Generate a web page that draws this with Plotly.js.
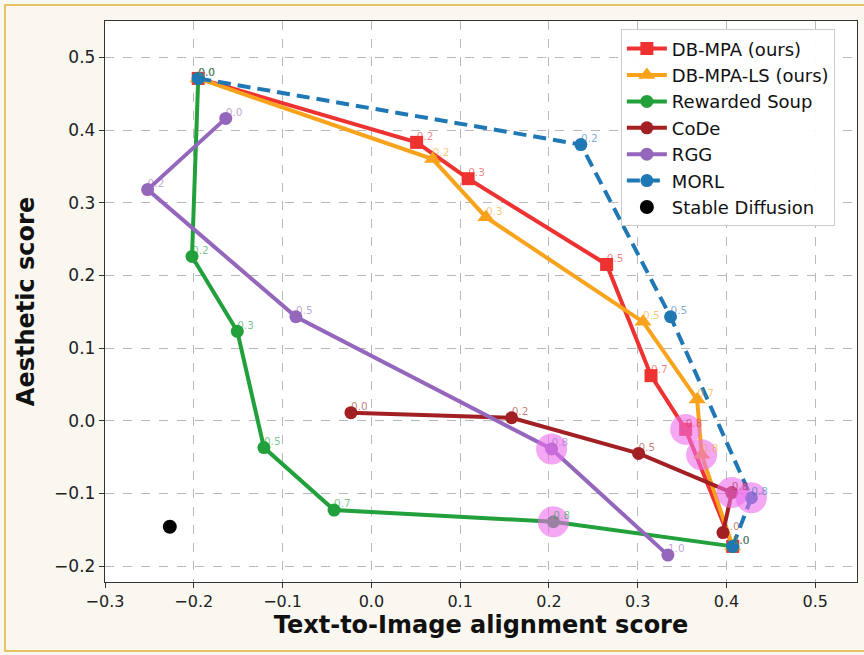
<!DOCTYPE html>
<html>
<head>
<meta charset="utf-8">
<script src="https://cdn.plot.ly/plotly-3.0.1.min.js"></script>
<style>
  html, body { margin: 0; padding: 0; background: #f9f7f0; overflow: hidden; }
  #frame { position: absolute; left: 4px; top: 4px; width: 880px; height: 648px;
           border: 2px solid #e7c166; box-sizing: border-box; }
  #chart { position: absolute; left: 0; top: 0; width: 864px; height: 655px; }
</style>
</head>
<body>
<div id="frame"></div>
<div id="chart"></div>
<script>
// ---- data ----
const dbmpaX = [-0.195, 0.051, 0.109, 0.265, 0.315, 0.354, 0.407];
const dbmpaY = [0.471, 0.383, 0.333, 0.215, 0.062, -0.012, -0.173];
const dbmpaL = ['0.0', '0.2', '0.3', '0.5', '0.7', '0.8', '1.0'];

const lsX = [-0.195, 0.069, 0.129, 0.306, 0.367, 0.372, 0.407];
const lsY = [0.471, 0.360, 0.280, 0.136, 0.029, -0.047, -0.173];
const lsL = ['0.0', '0.2', '0.3', '0.5', '0.7', '0.8', '1.0'];

const rsX = [-0.195, -0.202, -0.151, -0.121, -0.042, 0.205, 0.407];
const rsY = [0.471, 0.226, 0.123, -0.037, -0.123, -0.139, -0.173];
const rsL = ['0.0', '0.2', '0.3', '0.5', '0.7', '0.8', '1.0'];

const codeX = [-0.023, 0.158, 0.301, 0.406, 0.396];
const codeY = [0.011, 0.004, -0.045, -0.099, -0.154];
const codeL = ['0.0', '0.2', '0.5', '0.8', '1.0'];

const rggX = [-0.164, -0.252, -0.085, 0.203, 0.334];
const rggY = [0.416, 0.318, 0.143, -0.039, -0.185];
const rggL = ['0.0', '0.2', '0.5', '0.8', '1.0'];

const morlX = [-0.195, 0.236, 0.337, 0.428, 0.407];
const morlY = [0.471, 0.380, 0.143, -0.106, -0.173];
const morlL = ['0.0', '0.2', '0.5', '0.8', '1.0'];

const sdX = [-0.227];
const sdY = [-0.146];

const highlightLabel = '0.8';

// ---- series definitions ----
const series = [
  {name: 'DB-MPA (ours)', x: dbmpaX, y: dbmpaY, l: dbmpaL, color: '#ee3131', lab: 'rgba(238,49,49,0.6)', symbol: 'square', size: 13, dash: 'solid'},
  {name: 'DB-MPA-LS (ours)', x: lsX, y: lsY, l: lsL, color: '#f8a31b', lab: 'rgba(248,163,27,0.6)', symbol: 'triangle-up', size: 15, dash: 'solid'},
  {name: 'Rewarded Soup', x: rsX, y: rsY, l: rsL, color: '#21a03b', lab: 'rgba(33,160,59,0.6)', symbol: 'circle', size: 13, dash: 'solid'},
  {name: 'CoDe', x: codeX, y: codeY, l: codeL, color: '#a21f24', lab: 'rgba(162,31,36,0.6)', symbol: 'circle', size: 13, dash: 'solid'},
  {name: 'RGG', x: rggX, y: rggY, l: rggL, color: '#9467bd', lab: 'rgba(148,103,189,0.6)', symbol: 'circle', size: 13, dash: 'solid'},
  {name: 'MORL', x: morlX, y: morlY, l: morlL, color: '#1f77b4', lab: 'rgba(31,119,180,0.6)', symbol: 'circle', size: 13, dash: '13px,7px'}
];

const traces = [];
series.forEach(s => {
  traces.push({
    type: 'scatter', mode: 'lines+markers', name: s.name,
    x: s.x, y: s.y,
    line: {color: s.color, width: 4, dash: s.dash},
    marker: {color: s.color, symbol: s.symbol, size: s.size, line: {width: 0}}
  });
});
traces.push({
  type: 'scatter', mode: 'markers', name: 'Stable Diffusion',
  x: sdX, y: sdY,
  marker: {color: '#000000', size: 14, symbol: 'circle'}
});

// highlight circles at the 0.8 points
const hx = [], hy = [];
series.forEach(s => {
  s.l.forEach((lab, i) => { if (lab === highlightLabel) { hx.push(s.x[i]); hy.push(s.y[i]); } });
});
traces.push({
  type: 'scatter', mode: 'markers', showlegend: false, hoverinfo: 'skip',
  x: hx, y: hy,
  marker: {color: 'rgba(236,110,236,0.6)', size: 31, line: {width: 0}}
});

// labels on top
series.forEach(s => {
  traces.push({
    type: 'scatter', mode: 'text', showlegend: false, hoverinfo: 'skip',
    x: s.x, y: s.y, text: s.l, textposition: 'top right',
    textfont: {family: 'DejaVu Sans', size: 10.5, color: s.lab}
  });
});

const layout = {
  width: 864, height: 655,
  paper_bgcolor: 'rgba(0,0,0,0)',
  plot_bgcolor: '#ffffff',
  margin: {l: 105, r: 7, t: 21, b: 73},
  font: {family: 'DejaVu Sans', color: '#222'},
  showlegend: true,
  legend: {
    x: 0.686, y: 0.985, xanchor: 'left', yanchor: 'top',
    bgcolor: 'rgba(255,255,255,0.95)', bordercolor: '#cccccc', borderwidth: 1,
    font: {family: 'DejaVu Sans', size: 18, color: '#111'},
    itemwidth: 40, tracegroupgap: 0
  },
  xaxis: {
    range: [-0.3, 0.547], tickvals: [-0.3, -0.2, -0.1, 0.0, 0.1, 0.2, 0.3, 0.4, 0.5],
    ticktext: ['\u22120.3', '\u22120.2', '\u22120.1', '0.0', '0.1', '0.2', '0.3', '0.4', '0.5'],
    showgrid: true, gridcolor: '#b8b8b8', griddash: 'dash', gridwidth: 1,
    zeroline: false, showline: true, linecolor: '#333', linewidth: 1.2, mirror: true,
    ticks: 'outside', ticklen: 5, tickcolor: '#333',
    tickfont: {family: 'DejaVu Sans', size: 16, color: '#222'},
    title: {text: 'Text-to-Image alignment score', font: {family: 'DejaVu Sans', size: 24, color: '#111', weight: 'bold'}, standoff: 4},
    automargin: false
  },
  yaxis: {
    range: [-0.222, 0.55], tickvals: [-0.2, -0.1, 0.0, 0.1, 0.2, 0.3, 0.4, 0.5],
    ticktext: ['\u22120.2', '\u22120.1', '0.0', '0.1', '0.2', '0.3', '0.4', '0.5'],
    showgrid: true, gridcolor: '#b8b8b8', griddash: 'dash', gridwidth: 1,
    zeroline: false, showline: true, linecolor: '#333', linewidth: 1.2, mirror: true,
    ticks: 'outside', ticklen: 5, tickcolor: '#333',
    tickfont: {family: 'DejaVu Sans', size: 17, color: '#222'},
    title: {text: 'Aesthetic score', font: {family: 'DejaVu Sans', size: 24, color: '#111', weight: 'bold'}, standoff: 12},
    automargin: false
  }
};

Plotly.newPlot('chart', traces, layout, {displayModeBar: false, staticPlot: true});
</script>
</body>
</html>
